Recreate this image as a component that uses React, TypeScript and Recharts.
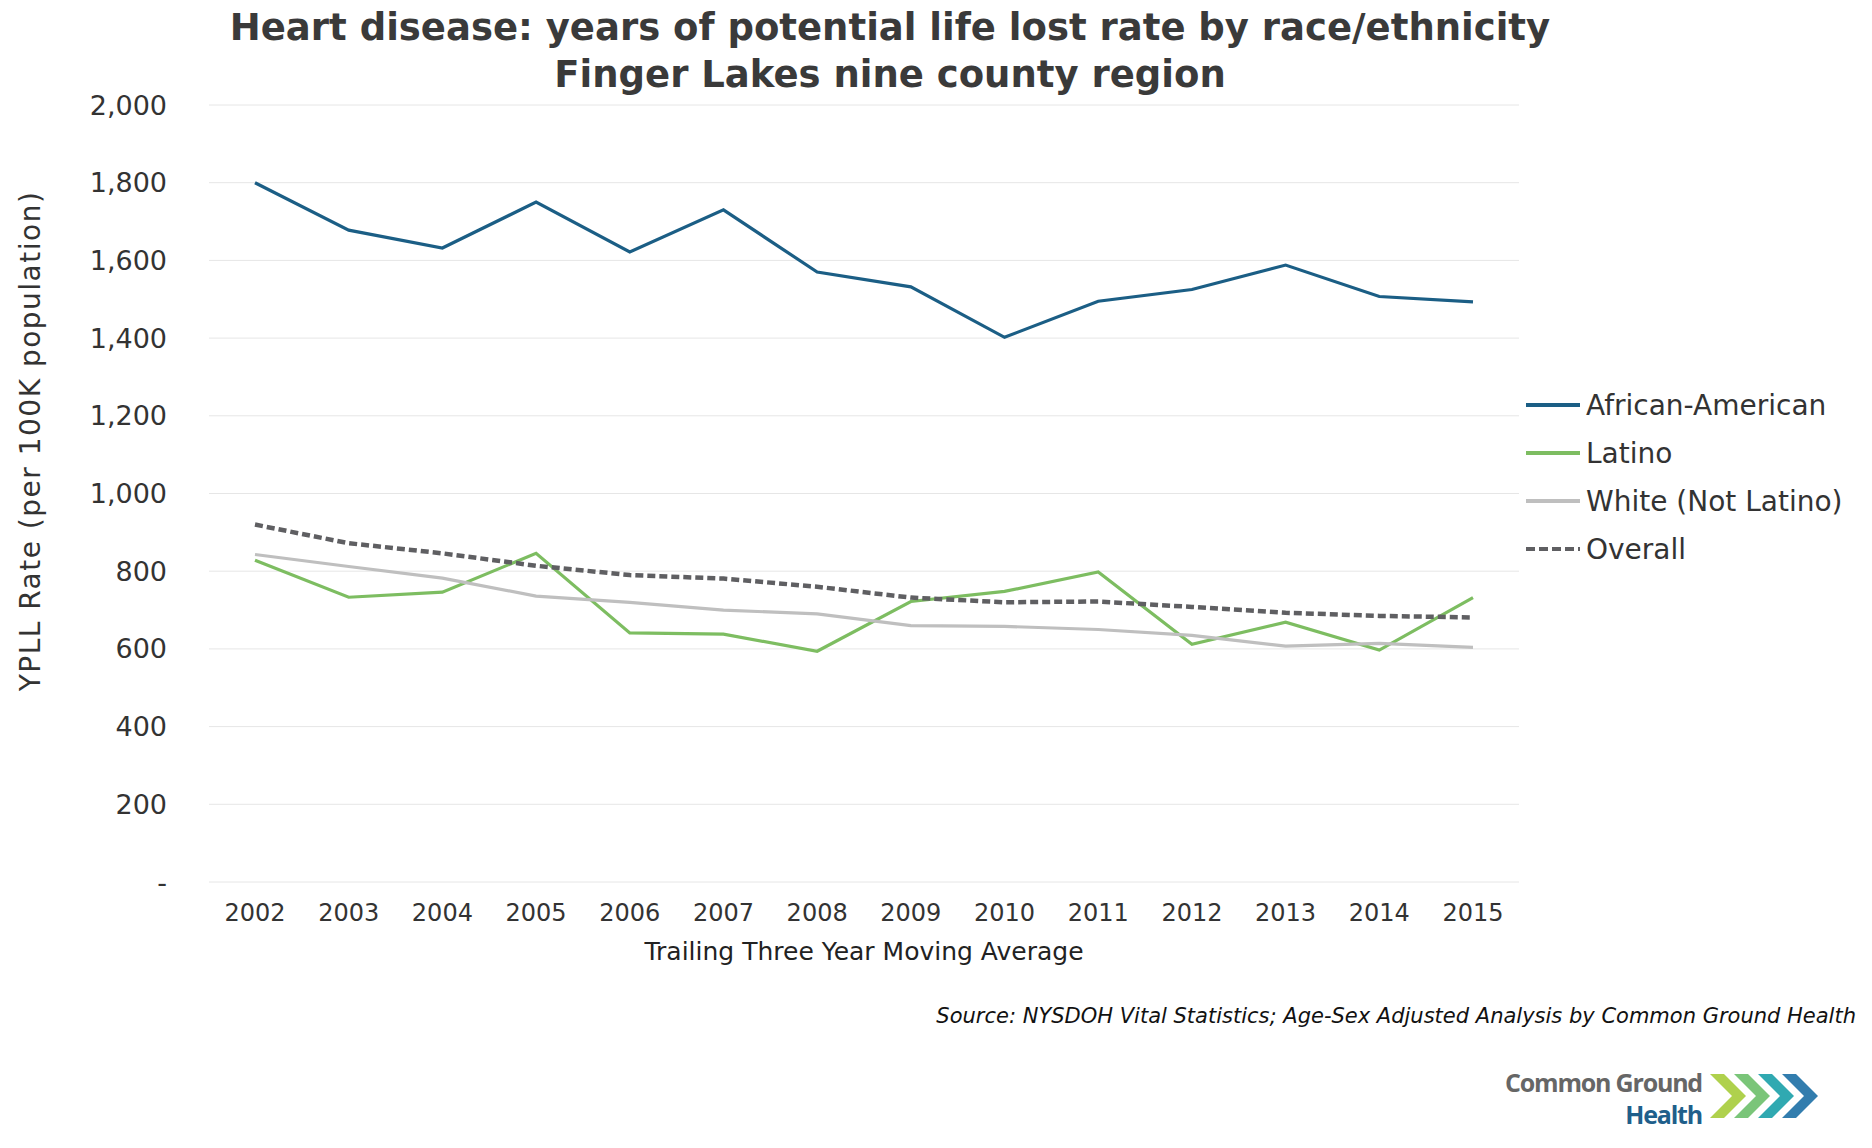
import React from "react";
import { LineChart, Line, XAxis, YAxis, CartesianGrid, Label } from "recharts";

const years = ["2002","2003","2004","2005","2006","2007","2008","2009","2010","2011","2012","2013","2014","2015"];
const africanAmerican = [1800,1678,1632,1750,1622,1730,1570,1532,1402,1495,1525,1588,1507,1493];
const latino = [828,733,746,846,641,638,594,722,748,798,612,669,597,732];
const white = [843,812,782,736,720,700,690,660,658,650,635,607,614,604];
const overall = [920,872,846,814,790,781,760,732,720,722,708,693,685,681];
const yTicks = [0,200,400,600,800,1000,1200,1400,1600,1800,2000];

const data = years.map((y, i) => ({ year: y, aa: africanAmerican[i], lat: latino[i], wh: white[i], ov: overall[i] }));

const series = [
  { key: "aa", name: "African-American", color: "#1b5e85", dash: undefined as string | undefined },
  { key: "lat", name: "Latino", color: "#7dbd61", dash: undefined },
  { key: "wh", name: "White (Not Latino)", color: "#bfbfbf", dash: undefined },
  { key: "ov", name: "Overall", color: "#5f5f62", dash: "8 4" },
];

const font = "'DejaVu Sans', Verdana, sans-serif";

export default function App() {
  return (
    <div style={{ position: "absolute", left: 0, top: 0, width: 1872, height: 1148, background: "#fff", fontFamily: font }}>
      <div style={{ position: "absolute", left: 0, width: 1780, top: 4, textAlign: "center", fontWeight: "bold", fontSize: 37, lineHeight: "47px", color: "#3a3a3a" }}>
        Heart disease: years of potential life lost rate by race/ethnicity<br />Finger Lakes nine county region
      </div>
      <LineChart width={1872} height={1148} data={data} margin={{ top: 105, right: 353, bottom: 176, left: 129 }}>
        <CartesianGrid vertical={false} stroke="#e6e6e6" />
        <XAxis dataKey="year" axisLine={false} tickLine={false} padding={{ left: 46, right: 46 }} tickSize={0} tickMargin={22}
          tick={{ fill: "#333", fontSize: 24, fontFamily: font }} height={90}>
          <Label value="Trailing Three Year Moving Average" position="insideTop" offset={60} style={{ fill: "#222", fontSize: 25, fontFamily: font }} />
        </XAxis>
        <YAxis domain={[0, 2000]} ticks={yTicks} axisLine={false} tickLine={false} tickSize={0} tickMargin={42} width={80}
          tickFormatter={(v: number) => (v === 0 ? "-" : v.toLocaleString("en-US"))}
          tick={{ fill: "#333", fontSize: 27, fontFamily: font }} />
        {series.map((s) => (
          <Line key={s.key} dataKey={s.key} name={s.name} stroke={s.color} strokeWidth={s.dash ? 4.5 : 3.2} strokeDasharray={s.dash} dot={false} isAnimationActive={false} />
        ))}
      </LineChart>
      <div style={{ position: "absolute", left: 30, top: 441, width: 0, height: 0 }}>
        <div style={{ position: "absolute", left: 0, top: 0, transform: "translate(-50%, -50%) rotate(-90deg)", whiteSpace: "nowrap", fontSize: 28, letterSpacing: 1.5, color: "#333" }}>
          YPLL Rate (per 100K population)
        </div>
      </div>
      <div style={{ position: "absolute", left: 1526, top: 381, fontSize: 28, color: "#333" }}>
        {series.map((s) => (
          <div key={s.key} style={{ display: "flex", alignItems: "center", height: 48 }}>
            <svg width={56} height={10} style={{ marginRight: 4 }}>
              <line x1={0} y1={5} x2={54} y2={5} stroke={s.color} strokeWidth={4} strokeDasharray={s.dash ? "9 4" : undefined} />
            </svg>
            <span>{s.name}</span>
          </div>
        ))}
      </div>
      <div style={{ position: "absolute", right: 16, top: 1004, fontStyle: "italic", fontSize: 21, color: "#111" }}>
        Source: NYSDOH Vital Statistics; Age-Sex Adjusted Analysis by Common Ground Health
      </div>
      <div style={{ position: "absolute", left: 1480, top: 1066, width: 222, textAlign: "right", fontFamily: "'Open Sans', sans-serif", fontWeight: "bold", letterSpacing: -1.2, lineHeight: "32px" }}>
        <div style={{ color: "#666", fontSize: 25 }}>Common Ground</div>
        <div style={{ color: "#1f5f8b", fontSize: 25 }}>Health</div>
      </div>
      <svg style={{ position: "absolute", left: 1710, top: 1074 }} width={110} height={46}>
        {["#a6cc3a", "#6cbf6a", "#1aa0a8", "#1c6fa5"].map((c, i) => (
          <polygon key={i} points={`${i * 24},0 ${i * 24 + 14},0 ${i * 24 + 36},22 ${i * 24 + 14},44 ${i * 24},44 ${i * 24 + 22},22`} fill={c} opacity={0.9} />
        ))}
      </svg>
    </div>
  );
}
